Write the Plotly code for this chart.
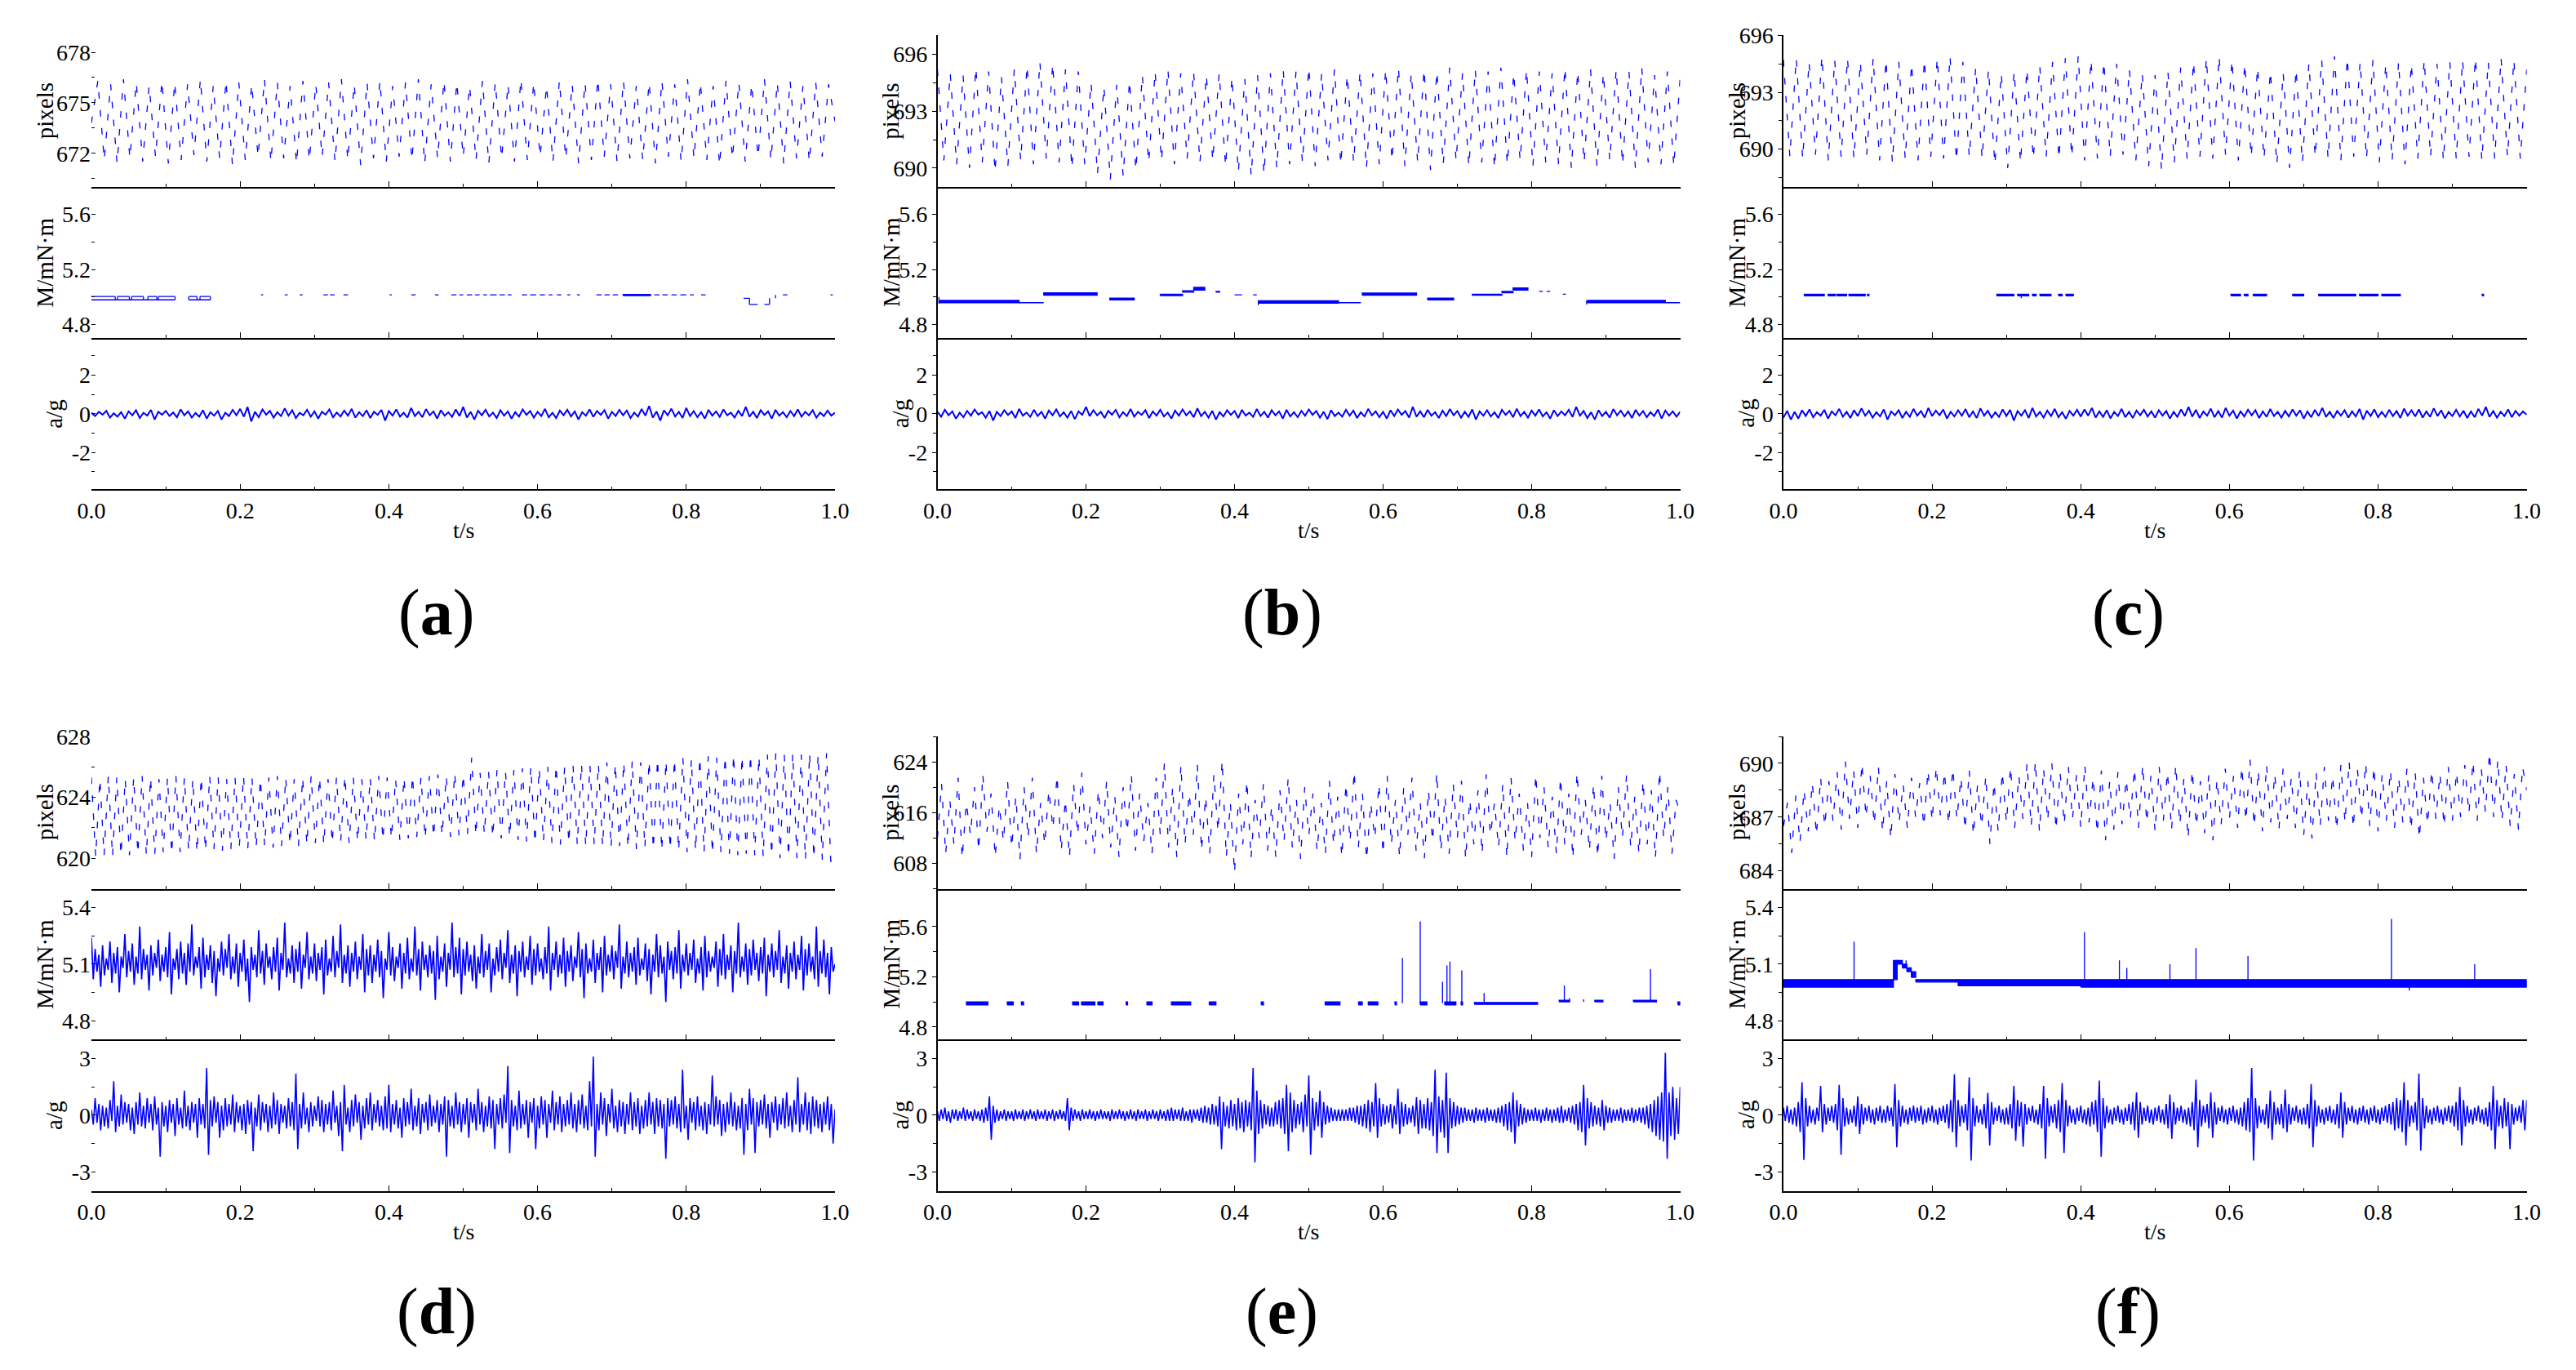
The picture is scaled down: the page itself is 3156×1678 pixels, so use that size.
import numpy as np
import plotly.graph_objects as go

# ------------------------------------------------------------------ data
# pixel traces (alternating crest / trough samples, evenly spread over 0..1 s)
pix_a = [673.8, 676.3, 671.6, 676.1, 671.4, 676.4, 671.7, 676.2, 671.5, 676.0, 671.8, 676.3, 671.4, 676.2, 671.6, 676.1,
         671.9, 676.4, 671.5, 676.0, 671.7, 676.3, 671.3, 676.2, 671.6, 676.1, 671.8, 676.4, 671.5, 676.2, 671.7, 676.0,
         671.4, 676.3, 671.6, 676.1, 671.8, 676.2, 671.5, 676.4, 671.6, 676.1, 671.3, 676.2, 671.7, 676.3, 671.5, 676.0,
         671.8, 676.2, 671.6, 676.4, 671.4, 676.1, 671.7, 676.3, 671.5, 676.2, 671.8, 676.0, 671.6, 676.3, 671.4, 676.2,
         671.7, 676.1, 671.5, 676.4, 671.6, 676.2, 671.8, 676.0, 671.5, 676.3, 671.7, 676.1, 671.4, 676.2, 671.6, 676.4,
         671.8, 676.1, 671.5, 676.3, 671.7, 676.0, 671.6, 676.2, 671.4, 676.3, 671.8, 676.1, 671.5, 676.4, 671.7, 676.2,
         671.6, 676.0, 671.3, 676.3, 671.7, 676.2, 671.5, 676.1, 671.8, 676.4, 671.6, 676.2, 671.4, 676.3, 671.7, 676.0,
         671.5, 676.2, 671.8, 676.1, 673.9]
pix_b = [695.2, 690.4, 695.0, 690.2, 694.9, 690.0, 695.3, 690.3, 695.1, 689.8, 694.8, 690.1, 695.2, 690.4, 695.4, 690.2,
         695.6, 690.5, 695.5, 690.3, 695.2, 690.0, 695.1, 690.2, 694.5, 689.7, 694.3, 689.4, 694.4, 689.6, 694.6, 689.9,
         694.9, 690.3, 695.1, 690.4, 695.2, 690.2, 695.0, 690.5, 695.1, 690.3, 694.9, 690.4, 695.0, 690.1, 694.8, 689.8,
         694.7, 689.6, 694.9, 689.7, 695.0, 690.0, 695.2, 690.2, 695.1, 690.3, 695.3, 690.1, 695.0, 690.4, 695.2, 690.2,
         694.9, 690.3, 695.1, 690.0, 695.0, 690.2, 695.2, 690.4, 695.3, 690.1, 695.0, 690.3, 695.2, 689.9, 695.1, 690.2,
         695.3, 690.4, 695.0, 690.1, 695.2, 690.3, 695.1, 690.0, 695.3, 690.2, 695.0, 690.4, 695.2, 690.1, 695.1, 690.3,
         695.0, 690.2, 695.3, 690.0, 695.1, 690.3, 695.2, 690.1, 695.0, 690.4, 695.2, 690.2, 695.1, 690.0, 695.3, 690.3,
         694.9, 690.2, 695.1, 690.1, 694.8]
pix_c = [694.7, 689.6, 694.8, 689.5, 694.6, 689.7, 694.9, 689.4, 694.7, 689.6, 694.8, 689.5, 694.6, 689.7, 694.8, 689.4,
         694.7, 689.3, 694.6, 689.5, 694.5, 689.4, 694.7, 689.6, 694.8, 689.5, 694.9, 689.4, 694.6, 689.6, 694.3, 689.5,
         694.2, 689.2, 694.0, 689.0, 694.1, 689.3, 694.2, 689.5, 694.4, 689.6, 694.6, 689.5, 694.8, 689.6, 694.9, 689.4,
         694.7, 689.5, 694.6, 689.6, 694.5, 689.7, 694.2, 689.4, 694.0, 689.1, 693.9, 688.9, 694.1, 689.3, 694.3, 689.5,
         694.6, 689.6, 694.8, 689.5, 694.9, 689.7, 694.7, 689.4, 694.5, 689.6, 694.3, 689.5, 694.1, 689.2, 694.0, 689.0,
         694.2, 689.3, 694.5, 689.6, 694.7, 689.5, 694.9, 689.4, 694.8, 689.6, 694.6, 689.5, 694.7, 689.3, 694.5, 689.4,
         694.6, 689.2, 694.5, 689.5, 694.7, 689.6, 694.5, 689.4, 694.6, 689.5, 694.7, 689.6, 694.8, 689.4, 694.6, 689.5,
         694.8, 689.6, 694.7, 689.5, 694.2]
pix_d = [625.3, 620.1, 625.2, 620.2, 625.4, 620.1, 625.3, 620.2, 625.2, 620.2, 625.3, 620.3, 625.4, 620.2, 625.3, 620.3,
         625.2, 620.4, 625.3, 620.3, 625.4, 620.4, 625.3, 620.5, 625.2, 620.4, 625.3, 620.5, 625.4, 620.6, 625.3, 620.5,
         625.2, 620.6, 625.3, 620.7, 625.4, 620.6, 625.3, 620.7, 625.2, 620.8, 625.3, 620.7, 625.4, 620.8, 625.3, 620.9,
         625.2, 620.8, 625.3, 620.9, 625.4, 621.0, 625.3, 620.9, 625.2, 621.0, 625.3, 621.1, 625.4, 621.0, 625.3, 621.1,
         625.2, 621.2, 625.3, 621.1, 625.4, 621.2, 625.3, 621.3, 625.2, 621.2, 625.3, 621.3, 625.4, 621.4, 625.3, 621.3,
         625.4, 621.4, 625.5, 621.5, 625.4, 621.4, 625.6, 621.5, 625.5, 621.6, 626.6, 621.5, 625.6, 621.6, 625.7, 621.4,
         625.8, 621.3, 625.7, 621.4, 625.8, 621.2, 625.9, 621.1, 626.0, 621.0, 625.9, 621.1, 626.0, 621.0, 626.1, 620.9,
         626.0, 621.0, 626.1, 620.9, 626.2, 620.8, 626.1, 620.9, 626.2, 620.8, 626.3, 620.7, 626.2, 620.8, 626.3, 620.7,
         626.4, 620.6, 626.3, 620.7, 626.4, 620.6, 626.5, 620.5, 626.4, 620.6, 626.5, 620.5, 626.6, 620.4, 626.5, 620.5,
         626.6, 620.4, 626.7, 620.3, 626.6, 620.4, 626.7, 620.3, 626.8, 620.2, 626.7, 620.3, 626.8, 620.2, 626.7, 620.1,
         626.8, 620.2, 626.9, 620.0, 626.8, 620.1, 626.9, 620.0, 626.8, 619.9, 626.9, 620.0, 626.8, 619.9, 626.9, 619.8,
         619.9]
pix_e = [612.0, 620.5, 609.5, 618.0, 611.0, 621.5, 608.8, 617.5, 612.5, 620.0, 610.0, 622.0, 613.0, 619.0, 609.0, 617.0,
         611.5, 621.0, 610.5, 618.5, 608.6, 620.0, 612.0, 621.5, 609.5, 617.5, 611.0, 619.5, 613.5, 621.8, 610.0, 618.0,
         609.0, 620.5, 612.5, 622.3, 611.0, 617.0, 609.5, 619.5, 612.0, 621.0, 610.5, 618.5, 609.0, 620.0, 613.0, 622.0,
         610.0, 619.0, 611.5, 617.5, 609.5, 621.5, 612.5, 623.8, 610.5, 620.0, 609.0, 623.5, 611.0, 619.0, 612.5, 623.6,
         610.0, 618.5, 609.5, 622.0, 613.0, 624.2, 609.0, 617.5, 606.5, 619.0, 611.0, 621.0, 608.8, 618.0, 612.0, 620.5,
         610.0, 617.0, 609.0, 619.5, 611.5, 621.5, 610.5, 618.0, 608.7, 620.0, 612.5, 619.0, 610.0, 617.5, 609.5, 621.0,
         611.0, 618.5, 609.0, 620.5, 611.5, 622.5, 610.5, 619.0, 608.6, 617.5, 612.0, 620.5, 609.5, 621.8, 611.0, 618.0,
         609.0, 620.0, 612.5, 621.5, 610.0, 617.5, 608.8, 619.5, 611.5, 622.3, 610.0, 618.5, 609.5, 620.5, 612.0, 621.0,
         608.7, 618.0, 611.0, 619.5, 609.5, 622.0, 612.5, 617.5, 610.5, 620.5, 608.9, 621.5, 611.5, 619.0, 610.0, 617.5,
         609.0, 622.0, 612.0, 620.0, 610.5, 618.5, 609.5, 621.5, 611.0, 619.0, 608.8, 622.3, 612.5, 618.0, 610.0, 620.5,
         609.0, 621.8, 611.5, 617.5, 608.7, 620.0, 612.0, 622.0, 610.5, 618.5, 609.5, 621.0, 611.0, 619.5, 608.8, 622.5,
         612.0, 620.0, 609.5, 618.0, 616.0]
pix_f = [686.5, 687.8, 685.0, 688.2, 685.6, 688.5, 686.2, 688.9, 686.0, 689.2, 686.5, 689.0, 686.8, 689.5, 686.3, 690.1,
         686.9, 689.6, 686.4, 690.0, 687.0, 689.3, 686.6, 689.8, 686.2, 689.0, 685.8, 689.4, 686.7, 688.8, 686.4, 689.2,
         687.0, 688.9, 686.5, 689.6, 686.8, 689.8, 687.1, 689.5, 686.6, 689.7, 686.9, 689.2, 686.3, 689.6, 686.0, 688.8,
         686.5, 689.3, 685.5, 688.9, 686.2, 689.5, 686.7, 689.8, 686.4, 689.3, 686.9, 690.0, 686.5, 690.1, 686.2, 689.7,
         686.8, 690.0, 686.3, 689.5, 686.6, 689.8, 686.9, 689.4, 686.4, 689.9, 686.7, 689.2, 686.1, 689.6, 685.7, 689.0,
         686.3, 689.5, 686.6, 689.1, 686.9, 689.7, 686.4, 689.9, 686.7, 689.3, 686.2, 689.8, 686.8, 689.5, 686.3, 689.9,
         686.6, 689.2, 685.8, 689.6, 686.5, 689.0, 686.1, 689.4, 685.7, 689.1, 686.6, 689.7, 686.9, 689.3, 686.4, 689.8,
         686.8, 690.2, 686.5, 689.6, 686.2, 689.9, 686.7, 689.4, 686.3, 689.7, 686.9, 689.2, 686.4, 689.6, 686.0, 689.0,
         685.8, 689.5, 686.5, 689.8, 686.8, 689.3, 686.3, 689.9, 686.7, 690.1, 686.4, 689.7, 686.9, 690.0, 686.5, 689.8,
         686.2, 689.4, 686.8, 689.6, 686.4, 689.2, 686.7, 689.7, 686.3, 689.5, 685.8, 689.2, 686.6, 689.6, 686.9, 689.4,
         686.5, 689.8, 686.8, 689.5, 687.0, 689.9, 687.2, 690.1, 686.8, 689.7, 687.3, 690.6, 687.0, 690.2, 686.8, 689.9,
         686.5, 689.4, 686.3, 689.8, 688.5]

# acceleration traces (a-c: 201 samples, d-f: 401 samples over 0..1 s)
acc_a = [0.05, -0.12, 0.10, -0.05, 0.15, -0.20, 0.02, -0.15, 0.08, -0.25, 0.12, -0.08, 0.18, -0.22, 0.05, -0.10, 0.20, -0.30, 0.10, -0.05,
         0.15, -0.12, 0.06, -0.18, 0.22, -0.08, 0.12, -0.20, 0.04, -0.15, 0.18, -0.25, 0.08, -0.10, 0.14, -0.30, 0.05, -0.12, 0.20, -0.08,
         0.25, -0.15, 0.35, -0.40, 0.10, -0.18, 0.22, -0.05, 0.15, -0.20, 0.08, -0.12, 0.28, -0.10, 0.18, -0.22, 0.05, -0.08, 0.20, -0.15,
         0.12, -0.25, 0.10, -0.05, 0.22, -0.18, 0.06, -0.14, 0.16, -0.10, 0.25, -0.20, 0.08, -0.12, 0.18, -0.22, 0.10, -0.06, 0.20, -0.35,
         0.14, -0.10, 0.22, -0.15, 0.05, -0.20, 0.30, -0.12, 0.10, -0.18, 0.24, -0.08, 0.12, -0.25, 0.18, -0.10, 0.08, -0.16, 0.22, -0.12,
         0.35, -0.20, 0.10, -0.30, 0.15, -0.08, 0.20, -0.14, 0.06, -0.22, 0.18, -0.10, 0.12, -0.25, 0.08, -0.15, 0.22, -0.06, 0.14, -0.20,
         0.10, -0.12, 0.25, -0.18, 0.05, -0.22, 0.16, -0.08, 0.20, -0.14, 0.12, -0.30, 0.08, -0.10, 0.22, -0.16, 0.14, -0.06, 0.18, -0.25,
         0.10, -0.12, 0.20, -0.08, 0.16, -0.22, 0.06, -0.15, 0.24, -0.10, 0.40, -0.20, 0.12, -0.35, 0.18, -0.08, 0.26, -0.14, 0.10, -0.22,
         0.30, -0.12, 0.14, -0.18, 0.08, -0.25, 0.20, -0.10, 0.12, -0.16, 0.22, -0.08, 0.06, -0.20, 0.15, -0.12, 0.35, -0.15, 0.10, -0.22,
         0.18, -0.06, 0.12, -0.25, 0.20, -0.10, 0.08, -0.18, 0.14, -0.12, 0.22, -0.15, 0.10, -0.08, 0.18, -0.20, 0.06, -0.12, 0.16, -0.10,
         0.05]
acc_b = [0.10, -0.15, 0.20, -0.08, 0.12, -0.25, 0.05, -0.18, 0.15, -0.10, 0.22, -0.05, 0.08, -0.20, 0.14, -0.35, 0.10, -0.12, 0.18, -0.06,
         0.12, -0.22, 0.25, -0.10, 0.06, -0.16, 0.20, -0.12, 0.10, -0.25, 0.16, -0.08, 0.22, -0.14, 0.08, -0.20, 0.14, -0.28, 0.12, -0.06,
         0.35, -0.12, 0.18, -0.08, 0.10, -0.22, 0.15, -0.05, 0.20, -0.18, 0.08, -0.12, 0.24, -0.15, 0.10, -0.06, 0.18, -0.22, 0.12, -0.10,
         0.20, -0.14, 0.06, -0.25, 0.16, -0.10, 0.22, -0.08, 0.12, -0.18, 0.28, -0.12, 0.10, -0.20, 0.15, -0.30, 0.08, -0.14, 0.18, -0.06,
         0.14, -0.22, 0.20, -0.10, 0.06, -0.16, 0.24, -0.12, 0.10, -0.20, 0.18, -0.08, 0.12, -0.25, 0.20, -0.14, 0.08, -0.18, 0.15, -0.10,
         0.22, -0.06, 0.14, -0.20, 0.10, -0.28, 0.18, -0.12, 0.06, -0.15, 0.20, -0.10, 0.16, -0.22, 0.08, -0.14, 0.25, -0.08, 0.12, -0.18,
         0.10, -0.25, 0.18, -0.12, 0.22, -0.06, 0.14, -0.20, 0.35, -0.15, 0.12, -0.18, 0.20, -0.10, 0.08, -0.22, 0.16, -0.12, 0.24, -0.08,
         0.14, -0.20, 0.10, -0.16, 0.22, -0.30, 0.12, -0.10, 0.18, -0.14, 0.08, -0.22, 0.20, -0.06, 0.15, -0.18, 0.26, -0.12, 0.10, -0.20,
         0.16, -0.10, 0.22, -0.14, 0.08, -0.25, 0.18, -0.12, 0.12, -0.08, 0.20, -0.16, 0.35, -0.10, 0.14, -0.22, 0.08, -0.30, 0.18, -0.12,
         0.10, -0.20, 0.24, -0.08, 0.16, -0.14, 0.12, -0.22, 0.20, -0.10, 0.14, -0.18, 0.08, -0.12, 0.22, -0.25, 0.16, -0.10, 0.12, -0.15,
         0.10]
acc_c = [-0.20, 0.15, -0.30, 0.10, -0.25, 0.18, -0.12, 0.22, -0.18, 0.08, -0.10, 0.20, -0.25, 0.12, -0.08, 0.25, -0.15, 0.10, -0.22, 0.18,
         -0.12, 0.28, -0.10, 0.15, -0.20, 0.08, -0.14, 0.22, -0.30, 0.12, -0.08, 0.18, -0.22, 0.10, -0.16, 0.25, -0.10, 0.14, -0.20, 0.30,
         -0.12, 0.16, -0.08, 0.22, -0.25, 0.10, -0.14, 0.18, -0.10, 0.24, -0.18, 0.12, -0.22, 0.28, -0.10, 0.15, -0.20, 0.08, -0.16, 0.22,
         -0.12, 0.20, -0.35, 0.14, -0.10, 0.18, -0.22, 0.30, -0.14, 0.10, -0.20, 0.16, -0.12, 0.25, -0.18, 0.08, -0.26, 0.14, -0.10, 0.20,
         -0.15, 0.22, -0.10, 0.30, -0.20, 0.12, -0.16, 0.18, -0.24, 0.10, -0.12, 0.25, -0.18, 0.10, -0.22, 0.16, -0.08, 0.20, -0.14, 0.12,
         -0.20, 0.18, -0.10, 0.14, -0.25, 0.10, -0.16, 0.22, -0.12, 0.35, -0.15, 0.20, -0.22, 0.12, -0.10, 0.26, -0.18, 0.14, -0.20, 0.30,
         -0.10, 0.16, -0.24, 0.12, -0.14, 0.20, -0.08, 0.18, -0.22, 0.12, -0.16, 0.24, -0.12, 0.10, -0.20, 0.15, -0.14, 0.22, -0.10, 0.18,
         -0.25, 0.12, -0.18, 0.20, -0.12, 0.30, -0.16, 0.10, -0.22, 0.14, -0.10, 0.18, -0.20, 0.12, -0.14, 0.25, -0.30, 0.16, -0.12, 0.22,
         -0.18, 0.10, -0.16, 0.20, -0.12, 0.14, -0.22, 0.26, -0.10, 0.18, -0.14, 0.22, -0.20, 0.12, -0.16, 0.28, -0.12, 0.18, -0.24, 0.10,
         -0.12, 0.20, -0.14, 0.16, -0.22, 0.12, -0.18, 0.25, -0.10, 0.35, -0.16, 0.14, -0.20, 0.10, -0.12, 0.22, -0.18, 0.15, -0.10, 0.12,
         -0.05]
acc_d = [0.3, -0.5, 0.9, -0.4, 0.6, -0.8, 0.5, -0.6, 0.4, -0.7, 0.8, -0.3, 1.8, -0.9, 0.5, -0.6, 1.1, -0.5, 0.7, -0.4,
         0.6, -0.8, 0.4, -1.0, 0.7, -0.5, 1.2, -0.6, 0.5, -0.7, 0.9, -0.4, 0.6, -0.8, 1.0, -0.5, 0.4, -2.2, 0.7, -0.6,
         0.5, -0.9, 0.8, -0.4, 0.6, -1.1, 0.9, -0.5, 0.4, -0.7, 1.3, -0.6, 0.5, -0.8, 0.7, -0.4, 0.6, -1.2, 0.9, -0.5,
         0.6, -0.7, 2.5, -2.1, 0.8, -0.6, 1.0, -0.4, 0.7, -1.2, 0.5, -0.8, 0.9, -0.6, 0.6, -0.5, 1.1, -0.9, 0.7, -0.4,
         0.5, -0.8, 0.6, -1.0, 0.8, -0.5, 0.7, -1.9, 0.4, -0.6, 1.1, -0.8, 0.7, -0.4, 0.6, -0.9, 0.5, -0.7, 1.2, -0.5,
         0.8, -1.0, 0.6, -0.4, 0.5, -0.7, 0.9, -0.6, 0.7, -0.8, 2.2, -1.8, 0.6, -0.7, 1.2, -0.5, 0.4, -0.9, 0.7, -0.6,
         0.5, -0.3, 1.0, -0.6, 0.8, -0.9, 0.6, -0.5, 0.7, -0.8, 1.3, -0.4, 0.5, -1.1, 0.7, -1.9, 1.6, -0.5, 0.4, -0.9,
         0.8, -0.6, 1.1, -0.4, 0.7, -1.3, 0.5, -0.7, 0.9, -0.5, 1.2, -0.8, 0.6, -0.4, 0.8, -0.6, 0.5, -0.8, 1.0, -0.7,
         1.6, -0.9, 0.6, -0.5, 0.8, -0.7, 0.4, -1.2, 0.9, -0.6, 0.7, -0.5, 1.4, -0.8, 0.5, -0.6, 0.9, -1.0, 0.6, -0.4,
         0.7, -0.8, 1.1, -0.6, 0.5, -0.4, 0.8, -0.9, 0.6, -0.5, 1.0, -2.2, 0.8, -0.6, 0.5, -0.7, 1.2, -0.5, 0.7, -0.9,
         0.6, -0.5, 0.9, -1.2, 0.7, -0.4, 0.6, -0.8, 1.4, -0.5, 0.7, -0.9, 0.5, -0.6, 1.0, -0.7, 0.8, -1.8, 0.6, -0.5,
         0.9, -0.7, 1.1, -0.4, 2.6, -2.0, 0.8, -0.6, 0.5, -0.8, 1.3, -0.7, 0.6, -0.5, 0.8, -1.2, 0.7, -0.4, 0.9, -1.8,
         0.5, -0.7, 1.0, -0.5, 0.8, -1.2, 0.6, -0.4, 1.3, -0.8, 0.7, -0.5, 1.0, -0.9, 0.6, -0.6, 0.8, -0.5, 1.2, -0.7,
         0.6, -0.9, 0.8, -0.5, 1.1, -0.7, 0.5, -0.8, 1.8, -0.6, 3.1, -2.2, 0.6, -0.8, 1.2, -0.5, 0.9, -1.1, 0.6, -0.4,
         1.4, -0.7, 0.5, -0.9, 0.8, -0.6, 0.7, -1.0, 0.6, -0.5, 1.2, -0.8, 0.7, -0.6, 0.9, -1.0, 0.5, -0.7, 0.8, -0.6,
         1.2, -0.5, 0.7, -1.0, 0.9, -0.6, 0.8, -0.7, 0.6, -2.3, 0.9, -0.6, 0.8, -0.5, 1.0, -0.7, 0.6, -0.9, 2.4, -0.7,
         0.5, -1.3, 0.9, -0.4, 0.7, -0.8, 1.0, -0.6, 0.5, -0.8, 0.7, -1.0, 0.6, -0.5, 2.1, -0.6, 1.0, -0.5, 0.8, -1.1,
         0.6, -0.9, 0.7, -0.5, 1.2, -0.6, 0.7, -0.8, 0.5, -0.7, 0.9, -2.1, 0.6, -0.8, 1.4, -0.5, 0.9, -2.0, 0.7, -0.6,
         0.8, -0.5, 1.1, -0.7, 0.6, -1.2, 0.7, -0.4, 1.0, -0.8, 0.6, -0.5, 0.9, -0.7, 1.2, -0.6, 0.5, -0.9, 0.8, -0.5,
         2.0, -0.9, 0.6, -0.5, 1.2, -0.8, 0.7, -1.0, 1.0, -0.6, 0.8, -0.7, 0.6, -0.9, 0.7, -0.5, 1.0, -0.8, 0.6, -1.5,
         0.3]
acc_e = [0.2, -0.3, 0.3, -0.2, 0.4, -0.3, 0.2, -0.4, 0.3, -0.2, 0.3, -0.3, 0.2, -0.2, 0.4, -0.3, 0.3, -0.2, 0.2, -0.3,
         0.3, -0.2, 0.2, -0.3, 0.3, -0.4, 0.4, -0.3, 1.0, -1.3, 0.5, -0.4, 0.3, -0.3, 0.2, -0.2, 0.3, -0.3, 0.2, -0.2,
         0.2, -0.3, 0.3, -0.2, 0.2, -0.2, 0.3, -0.3, 0.2, -0.2, 0.3, -0.2, 0.2, -0.3, 0.3, -0.2, 0.2, -0.2, 0.3, -0.3,
         0.2, -0.2, 0.3, -0.3, 0.2, -0.2, 0.3, -0.2, 0.2, -0.3, 0.9, -0.8, 0.4, -0.3, 0.3, -0.2, 0.2, -0.3, 0.3, -0.2,
         0.2, -0.2, 0.3, -0.2, 0.2, -0.3, 0.2, -0.2, 0.3, -0.2, 0.2, -0.2, 0.2, -0.3, 0.3, -0.2, 0.2, -0.2, 0.3, -0.2,
         0.2, -0.3, 0.2, -0.2, 0.3, -0.2, 0.2, -0.3, 0.3, -0.2, 0.2, -0.2, 0.3, -0.3, 0.2, -0.2, 0.3, -0.2, 0.2, -0.3,
         0.3, -0.2, 0.2, -0.3, 0.3, -0.3, 0.4, -0.3, 0.3, -0.2, 0.3, -0.3, 0.4, -0.3, 0.2, -0.3, 0.3, -0.4, 0.3, -0.2,
         0.3, -0.3, 0.4, -0.4, 0.5, -0.4, 0.4, -0.5, 0.6, -0.5, 0.5, -0.6, 1.0, -1.8, 0.7, -0.6, 0.5, -0.7, 0.8, -0.6,
         0.6, -0.8, 0.9, -0.7, 0.7, -0.9, 0.8, -0.6, 0.7, -0.8, 2.5, -2.5, 1.3, -1.0, 0.8, -0.7, 0.6, -0.5, 0.5, -0.6,
         0.4, -0.6, 0.7, -0.5, 0.8, -0.7, 0.9, -1.0, 1.6, -1.9, 1.2, -0.9, 0.8, -0.7, 0.6, -0.5, 0.7, -0.9, 1.1, -0.6,
         2.1, -2.1, 0.9, -0.8, 0.7, -0.6, 1.3, -1.2, 0.7, -0.5, 0.5, -0.4, 0.4, -0.3, 0.3, -0.3, 0.3, -0.3, 0.3, -0.3,
         0.3, -0.3, 0.4, -0.3, 0.4, -0.4, 0.5, -0.5, 0.5, -0.6, 0.6, -0.7, 0.8, -0.9, 0.7, -0.6, 1.7, -1.2, 0.9, -0.6,
         0.6, -0.5, 0.5, -0.4, 0.6, -0.7, 0.5, -0.5, 1.4, -1.0, 0.7, -0.6, 0.6, -0.5, 0.4, -0.4, 0.5, -0.6, 0.95, -1.0,
         0.8, -0.7, 0.6, -0.7, 0.9, -0.8, 0.7, -1.1, 2.4, -2.0, 1.0, -0.9, 0.8, -1.2, 2.25, -2.0, 0.9, -0.7, 0.7, -0.6,
         0.5, -0.5, 0.4, -0.4, 0.4, -0.3, 0.3, -0.3, 0.3, -0.4, 0.4, -0.3, 0.3, -0.3, 0.3, -0.4, 0.4, -0.3, 0.3, -0.3,
         0.3, -0.4, 0.4, -0.4, 0.5, -0.6, 0.6, -0.8, 0.7, -0.9, 1.2, -1.5, 0.8, -0.6, 0.6, -0.5, 0.4, -0.4, 0.3, -0.3,
         0.3, -0.3, 0.4, -0.3, 0.3, -0.4, 0.3, -0.3, 0.4, -0.3, 0.3, -0.4, 0.3, -0.3, 0.4, -0.4, 0.5, -0.4, 0.3, -0.3,
         0.4, -0.4, 0.5, -0.5, 0.6, -0.8, 0.7, -0.9, 1.6, -1.6, 0.9, -0.7, 0.7, -0.6, 0.5, -0.5, 0.4, -0.6, 0.8, -0.8,
         0.5, -0.4, 0.4, -0.4, 0.3, -0.3, 0.3, -0.3, 0.4, -0.4, 0.3, -0.3, 0.3, -0.3, 0.4, -0.4, 0.3, -0.3, 0.4, -0.4,
         0.4, -0.5, 0.5, -0.7, 0.6, -0.9, 0.8, -1.1, 1.0, -1.3, 1.2, -1.4, 3.3, -2.3, 1.2, -1.1, 1.5, -1.3, 0.9, -1.0,
         1.5]
acc_f = [0.4, -0.3, 0.5, -0.4, 0.3, -0.5, 0.4, -0.6, 0.7, -0.9, 1.74, -2.37, 0.9, -0.6, 0.5, -0.4, 0.3, -0.5, 0.4, -0.3,
         1.55, -0.9, 0.6, -0.5, 0.4, -0.3, 0.5, -0.4, 0.6, -0.8, 1.6, -2.1, 0.9, -0.6, 0.4, -0.5, 0.3, -0.4, 0.5, -0.6,
         1.0, -1.0, 0.6, -0.5, 0.4, -0.3, 0.5, -0.4, 0.3, -0.5, 0.4, -0.3, 0.5, -0.4, 0.3, -0.4, 0.5, -0.3, 0.4, -0.6,
         1.65, -1.7, 0.8, -0.6, 0.5, -0.4, 0.3, -0.5, 0.4, -0.3, 0.5, -0.4, 0.4, -0.3, 0.5, -0.5, 0.3, -0.4, 0.4, -0.3,
         0.5, -0.4, 0.3, -0.5, 0.4, -0.3, 0.5, -0.4, 0.6, -0.7, 0.8, -0.9, 2.17, -1.7, 0.8, -0.6, 0.5, -0.4, 0.6, -0.8,
         2.0, -2.4, 0.9, -0.6, 0.5, -0.4, 0.3, -0.5, 0.6, -0.7, 1.18, -1.6, 0.7, -0.5, 0.4, -0.3, 0.5, -0.4, 0.3, -0.5,
         0.4, -0.5, 0.6, -0.7, 1.55, -1.35, 0.8, -0.6, 0.7, -1.67, 0.6, -0.5, 0.4, -0.3, 0.5, -0.4, 0.3, -0.5, 0.6, -0.7,
         1.55, -2.3, 0.9, -0.6, 0.5, -0.4, 0.6, -0.7, 0.8, -0.9, 1.7, -2.0, 0.8, -0.6, 0.5, -0.4, 0.3, -0.5, 0.4, -0.3,
         0.5, -0.4, 0.3, -0.5, 0.4, -0.6, 0.7, -0.5, 0.8, -0.9, 1.83, -2.2, 0.9, -0.7, 0.5, -0.4, 0.3, -0.5, 0.4, -0.3,
         0.5, -0.4, 0.3, -0.5, 0.4, -0.3, 0.6, -0.5, 0.7, -0.8, 1.2, -1.2, 0.7, -0.5, 0.4, -0.3, 0.5, -0.4, 0.3, -0.5,
         0.4, -0.3, 0.5, -0.4, 0.3, -0.5, 0.6, -0.7, 1.1, -1.25, 0.7, -0.5, 0.4, -0.3, 0.5, -0.4, 0.3, -0.5, 0.4, -0.6,
         0.7, -0.8, 1.87, -1.7, 0.8, -0.6, 0.5, -0.4, 0.6, -0.7, 1.2, -1.2, 0.7, -0.5, 0.4, -0.3, 0.5, -0.4, 0.3, -0.5,
         0.4, -0.3, 0.5, -0.4, 0.3, -0.5, 0.4, -0.6, 0.7, -0.8, 0.9, -0.9, 2.5, -2.4, 0.9, -0.7, 0.5, -0.4, 0.3, -0.5,
         0.6, -0.7, 1.3, -1.3, 0.7, -0.5, 0.4, -0.5, 0.6, -0.7, 1.36, -0.9, 0.6, -0.5, 0.4, -0.3, 0.5, -0.4, 0.3, -0.5,
         0.4, -0.5, 0.6, -0.7, 1.65, -1.7, 0.8, -0.6, 0.5, -0.4, 0.3, -0.5, 0.4, -0.3, 0.5, -0.4, 0.3, -0.5, 0.6, -0.7,
         1.2, -1.2, 0.7, -0.5, 0.4, -0.3, 0.5, -0.4, 0.3, -0.5, 0.4, -0.3, 0.5, -0.4, 0.3, -0.5, 0.4, -0.3, 0.5, -0.4,
         0.3, -0.5, 0.4, -0.3, 0.5, -0.4, 0.6, -0.5, 0.7, -0.8, 0.9, -0.7, 0.8, -0.9, 1.74, -1.6, 0.8, -0.6, 0.5, -0.4,
         0.7, -0.8, 2.2, -1.87, 0.9, -0.7, 0.5, -0.4, 0.3, -0.5, 0.4, -0.3, 0.5, -0.4, 0.3, -0.5, 0.4, -0.3, 0.5, -0.4,
         0.5, -0.6, 0.7, -0.8, 1.5, -1.6, 0.8, -0.6, 0.5, -0.4, 0.3, -0.5, 0.4, -0.3, 0.5, -0.4, 0.3, -0.5, 0.4, -0.6,
         0.7, -0.8, 1.55, -1.8, 0.8, -0.6, 0.5, -0.7, 0.9, -0.6, 0.7, -1.8, 0.6, -0.5, 0.4, -0.3, 0.5, -0.4, 0.8, -0.8,
         0.8]

# torque: dense trace of panel (d) (401 samples)
m_d = [5.24, 5.02, 5.18, 5.06, 5.15, 4.98, 5.20, 5.04, 5.13, 5.07, 5.22, 5.00, 5.16, 5.05, 5.19, 4.95, 5.14, 5.08, 5.26, 5.03,
       5.17, 5.06, 5.21, 4.99, 5.14, 5.05, 5.30, 5.02, 5.18, 5.07, 5.15, 4.96, 5.20, 5.04, 5.16, 5.08, 5.23, 5.01, 5.15, 5.06,
       5.19, 5.03, 5.27, 4.94, 5.13, 5.07, 5.18, 5.02, 5.22, 5.05, 5.16, 4.99, 5.21, 5.06, 5.31, 5.04, 5.14, 5.08, 5.19, 4.97,
       5.24, 5.03, 5.15, 5.07, 5.20, 5.00, 5.17, 4.93, 5.13, 5.06, 5.22, 5.04, 5.18, 5.08, 5.26, 5.02, 5.14, 5.05, 5.21, 4.98,
       5.16, 5.06, 5.23, 5.01, 5.13, 4.90, 5.19, 5.07, 5.15, 5.03, 5.28, 5.05, 5.17, 4.99, 5.21, 5.08, 5.14, 5.02, 5.19, 5.06,
       5.24, 4.96, 5.16, 5.07, 5.32, 5.03, 5.13, 5.05, 5.20, 5.00, 5.18, 5.06, 5.22, 4.97, 5.15, 5.08, 5.27, 5.02, 5.14, 5.05,
       5.21, 5.01, 5.16, 5.07, 5.19, 4.94, 5.23, 5.04, 5.13, 5.06, 5.25, 5.03, 5.17, 5.08, 5.31, 5.00, 5.15, 5.05, 5.20, 4.98,
       5.16, 5.06, 5.22, 5.02, 5.14, 5.07, 5.26, 4.95, 5.18, 5.04, 5.20, 5.00, 5.15, 5.06, 5.23, 5.03, 5.17, 4.92, 5.13, 5.07,
       5.27, 5.04, 5.19, 5.01, 5.14, 5.08, 5.21, 4.97, 5.16, 5.05, 5.24, 5.02, 5.13, 5.06, 5.30, 5.04, 5.18, 4.96, 5.22, 5.07,
       5.15, 5.03, 5.20, 5.05, 5.17, 4.91, 5.25, 5.02, 5.14, 5.06, 5.21, 4.98, 5.16, 5.07, 5.32, 5.03, 5.19, 5.05, 5.24, 4.94,
       5.18, 5.04, 5.22, 5.06, 5.15, 5.01, 5.20, 4.97, 5.14, 5.05, 5.26, 5.03, 5.17, 5.07, 5.21, 4.95, 5.13, 5.04, 5.19, 5.06,
       5.23, 5.02, 5.16, 5.08, 5.28, 5.00, 5.15, 5.05, 5.20, 4.93, 5.17, 5.06, 5.22, 5.03, 5.14, 5.07, 5.25, 4.99, 5.18, 5.04,
       5.21, 5.06, 5.13, 5.02, 5.19, 5.05, 5.30, 4.96, 5.16, 5.07, 5.22, 5.03, 5.15, 5.05, 5.24, 4.98, 5.17, 5.06, 5.20, 5.01,
       5.14, 5.08, 5.27, 5.03, 5.18, 4.92, 5.21, 5.05, 5.13, 5.06, 5.23, 5.00, 5.16, 5.07, 5.19, 4.95, 5.25, 5.04, 5.15, 5.06,
       5.20, 5.02, 5.17, 5.08, 5.31, 4.97, 5.14, 5.05, 5.22, 5.03, 5.16, 5.06, 5.19, 4.99, 5.24, 5.04, 5.13, 5.07, 5.21, 5.01,
       5.18, 4.94, 5.15, 5.06, 5.26, 5.03, 5.20, 5.05, 5.14, 4.90, 5.22, 5.07, 5.17, 5.02, 5.19, 5.05, 5.28, 4.97, 5.15, 5.06,
       5.21, 5.04, 5.16, 5.07, 5.23, 5.00, 5.13, 5.05, 5.19, 4.96, 5.25, 5.03, 5.17, 5.06, 5.14, 5.08, 5.22, 4.98, 5.18, 5.04,
       5.26, 5.02, 5.15, 5.07, 5.20, 4.95, 5.17, 5.05, 5.32, 5.03, 5.14, 5.06, 5.21, 4.99, 5.18, 5.04, 5.23, 5.07, 5.16, 5.01,
       5.19, 5.05, 5.24, 4.93, 5.15, 5.06, 5.21, 5.03, 5.17, 5.07, 5.28, 5.00, 5.14, 5.05, 5.20, 4.97, 5.16, 5.06, 5.22, 5.02,
       5.15, 5.07, 5.25, 4.96, 5.18, 5.04, 5.21, 5.06, 5.14, 5.02, 5.30, 4.98, 5.17, 5.05, 5.23, 5.03, 5.16, 4.94, 5.19, 5.06,
       5.10]

# torque: held levels (t_start, t_end, low, high) and single spikes (t, low, high)
m_seg_a = [(0.0, 0.1125, 4.979, 4.979), (0.131, 0.160, 4.979, 4.979),
           (0.0, 0.032, 5.003, 5.003), (0.035, 0.051, 5.003, 5.003), (0.054, 0.070, 5.003, 5.003),
           (0.076, 0.088, 5.003, 5.003), (0.090, 0.1125, 5.003, 5.003), (0.131, 0.142, 5.003, 5.003),
           (0.146, 0.160, 5.003, 5.003),
           (0.228, 0.231, 5.015, 5.015), (0.260, 0.264, 5.015, 5.015), (0.280, 0.284, 5.015, 5.015),
           (0.312, 0.318, 5.015, 5.015), (0.321, 0.327, 5.015, 5.015), (0.339, 0.345, 5.015, 5.015),
           (0.401, 0.404, 5.015, 5.015), (0.430, 0.436, 5.015, 5.015), (0.462, 0.467, 5.015, 5.015),
           (0.484, 0.491, 5.015, 5.015), (0.495, 0.500, 5.015, 5.015), (0.505, 0.512, 5.015, 5.015),
           (0.516, 0.522, 5.015, 5.015), (0.527, 0.532, 5.015, 5.015), (0.536, 0.545, 5.015, 5.015),
           (0.549, 0.556, 5.015, 5.015), (0.560, 0.565, 5.015, 5.015), (0.579, 0.586, 5.015, 5.015),
           (0.590, 0.598, 5.015, 5.015), (0.603, 0.610, 5.015, 5.015), (0.615, 0.620, 5.015, 5.015),
           (0.626, 0.632, 5.015, 5.015), (0.640, 0.644, 5.015, 5.015), (0.653, 0.657, 5.015, 5.015),
           (0.679, 0.686, 5.015, 5.015), (0.690, 0.697, 5.015, 5.015), (0.701, 0.708, 5.015, 5.015),
           (0.715, 0.752, 5.010, 5.018), (0.757, 0.764, 5.015, 5.015), (0.768, 0.775, 5.015, 5.015),
           (0.780, 0.787, 5.015, 5.015), (0.792, 0.800, 5.015, 5.015), (0.805, 0.810, 5.015, 5.015),
           (0.820, 0.826, 5.015, 5.015), (0.877, 0.885, 4.990, 4.990), (0.885, 0.896, 4.945, 4.945),
           (0.905, 0.912, 4.945, 4.945), (0.930, 0.936, 5.015, 5.015), (0.994, 0.997, 5.015, 5.015)]
m_spk_a = [(0.032, 4.979, 5.003), (0.035, 4.979, 5.003), (0.051, 4.979, 5.003), (0.054, 4.979, 5.003),
           (0.070, 4.979, 5.003), (0.076, 4.979, 5.003), (0.088, 4.979, 5.003), (0.090, 4.979, 5.003),
           (0.1125, 4.979, 5.003), (0.131, 4.979, 5.003), (0.142, 4.979, 5.003), (0.146, 4.979, 5.003),
           (0.160, 4.979, 5.003), (0.885, 4.945, 4.990), (0.912, 4.945, 4.990), (0.920, 4.990, 5.015)]
m_seg_b = [(0.003, 0.110, 4.958, 4.975), (0.110, 0.143, 4.958, 4.958), (0.143, 0.215, 5.012, 5.030),
           (0.232, 0.265, 4.978, 4.992), (0.300, 0.330, 5.010, 5.020), (0.330, 0.345, 5.035, 5.045),
           (0.345, 0.360, 5.050, 5.070), (0.375, 0.380, 5.035, 5.040), (0.400, 0.410, 5.015, 5.015),
           (0.425, 0.430, 5.015, 5.015), (0.432, 0.540, 4.955, 4.972), (0.540, 0.570, 4.958, 4.958),
           (0.572, 0.645, 5.012, 5.028), (0.660, 0.695, 4.978, 4.992), (0.720, 0.760, 5.012, 5.020),
           (0.760, 0.775, 5.030, 5.040), (0.775, 0.795, 5.050, 5.065), (0.810, 0.815, 5.040, 5.040),
           (0.820, 0.825, 5.040, 5.040), (0.842, 0.846, 5.020, 5.020), (0.875, 0.980, 4.958, 4.975),
           (0.980, 1.000, 4.958, 4.958)]
m_spk_b = [(0.002, 4.950, 5.000), (0.432, 4.940, 4.970), (0.874, 4.945, 4.975), (0.355, 5.050, 5.075),
           (0.790, 5.050, 5.070)]
m_seg_c = [(0.028, 0.055, 5.008, 5.020), (0.060, 0.070, 5.008, 5.020), (0.072, 0.085, 5.008, 5.020),
           (0.088, 0.110, 5.008, 5.020), (0.113, 0.115, 5.008, 5.020), (0.287, 0.310, 5.008, 5.020),
           (0.315, 0.330, 5.008, 5.020), (0.335, 0.340, 5.008, 5.020), (0.345, 0.360, 5.008, 5.020),
           (0.370, 0.375, 5.008, 5.020), (0.380, 0.390, 5.008, 5.020), (0.602, 0.615, 5.008, 5.020),
           (0.620, 0.625, 5.008, 5.020), (0.632, 0.650, 5.008, 5.020), (0.685, 0.700, 5.008, 5.020),
           (0.720, 0.770, 5.008, 5.020), (0.775, 0.800, 5.008, 5.020), (0.805, 0.830, 5.008, 5.020),
           (0.940, 0.942, 5.008, 5.020)]
m_spk_c = [(0.320, 4.990, 5.015)]
m_seg_e = [(0.039, 0.068, 4.975, 5.000), (0.094, 0.102, 4.975, 5.000), (0.113, 0.116, 4.975, 5.000),
           (0.182, 0.190, 4.975, 5.000), (0.194, 0.212, 4.975, 5.000), (0.216, 0.223, 4.975, 5.000),
           (0.254, 0.256, 4.975, 5.000), (0.282, 0.289, 4.975, 5.000), (0.315, 0.341, 4.975, 5.000),
           (0.366, 0.375, 4.975, 5.000), (0.436, 0.439, 4.975, 5.000), (0.522, 0.542, 4.975, 5.000),
           (0.567, 0.572, 4.975, 5.000), (0.580, 0.593, 4.975, 5.000), (0.616, 0.618, 4.975, 5.000),
           (0.650, 0.659, 4.975, 5.000), (0.683, 0.698, 4.975, 5.000), (0.705, 0.707, 4.975, 5.000),
           (0.723, 0.808, 4.980, 4.995), (0.837, 0.851, 5.000, 5.012), (0.885, 0.896, 5.000, 5.012),
           (0.937, 0.968, 5.000, 5.012), (0.997, 1.000, 4.975, 5.000)]
m_spk_e = [(0.626, 4.990, 5.350), (0.650, 4.990, 5.640), (0.680, 4.990, 5.160), (0.686, 4.990, 5.290),
           (0.690, 4.990, 5.320), (0.706, 4.990, 5.250), (0.736, 4.990, 5.070), (0.844, 5.000, 5.130),
           (0.851, 5.000, 5.030), (0.870, 5.000, 5.020), (0.960, 5.000, 5.260)]
m_seg_f = [(0.000, 0.148, 4.978, 5.018), (0.148, 0.153, 5.018, 5.120), (0.153, 0.160, 5.100, 5.120),
           (0.160, 0.166, 5.080, 5.100), (0.166, 0.172, 5.060, 5.080), (0.172, 0.178, 5.030, 5.060),
           (0.178, 0.235, 5.005, 5.018), (0.235, 0.300, 4.985, 5.018), (0.300, 0.400, 4.985, 5.018),
           (0.400, 1.000, 4.978, 5.018)]
m_spk_f = [(0.095, 5.000, 5.220), (0.405, 5.000, 5.270), (0.452, 5.000, 5.120), (0.462, 5.000, 5.080),
           (0.520, 5.000, 5.100), (0.555, 5.000, 5.185), (0.625, 5.000, 5.143), (0.818, 5.000, 5.340),
           (0.930, 5.000, 5.100), (0.165, 5.080, 5.120), (0.842, 4.960, 4.990)]

# axes
panel_names = ['a', 'b', 'c', 'd', 'e', 'f']
pix_ranges = [[670, 679], [689, 697], [688, 696], [618, 628], [604, 628], [683, 691.5]]
pix_ticks = [[672, 675, 678], [690, 693, 696], [690, 693, 696], [620, 624, 628], [608, 616, 624], [684, 687, 690]]
pix_minor = [[670.5, 673.5, 676.5], [691.5, 694.5], [688.5, 691.5, 694.5], [618, 622, 626], [604, 612, 620, 628], [685.5, 688.5, 691.5]]
m_ranges = [[4.7, 5.8], [4.7, 5.8], [4.7, 5.8], [4.7, 5.5], [4.7, 5.9], [4.7, 5.5]]
m_ticks = [[4.8, 5.2, 5.6], [4.8, 5.2, 5.6], [4.8, 5.2, 5.6], [4.8, 5.1, 5.4], [4.8, 5.2, 5.6], [4.8, 5.1, 5.4]]
m_minor = [[5.0, 5.4], [5.0, 5.4], [5.0, 5.4], [4.95, 5.25], [5.0, 5.4], [4.95, 5.25]]
a_ranges = [[-3.9, 3.9], [-3.9, 3.9], [-3.9, 3.9], [-4, 4], [-4, 4], [-4, 4]]
a_ticks = [[-2, 0, 2], [-2, 0, 2], [-2, 0, 2], [-3, 0, 3], [-3, 0, 3], [-3, 0, 3]]
a_minor = [[-3, -1, 1, 3], [-3, -1, 1, 3], [-3, -1, 1, 3], [-1.5, 1.5], [-1.5, 1.5], [-1.5, 1.5]]
x_ticks = [0.0, 0.2, 0.4, 0.6, 0.8, 1.0]
x_minor = [0.1, 0.3, 0.5, 0.7, 0.9]

# ------------------------------------------------------------------ layout
PAGE_W, PAGE_H = 3156, 1678
OFF = 8                       # default page margin of the html body
W, H = PAGE_W - OFF, PAGE_H - OFF
BLUE = '#0000FF'
FONT = 'Liberation Serif'
COL_X = [(112.0, 1023.0), (1148.5, 2058.5), (2185.0, 3095.6)]
ROW_Y = [[(43.4, 229.0), (229.0, 414.2), (414.2, 599.3)],
         [(902.0, 1088.5), (1088.5, 1273.3), (1273.3, 1458.5)]]
LEFT_LINE = [False, True, True, False, True, True]

pix_list = [pix_a, pix_b, pix_c, pix_d, pix_e, pix_f]
acc_list = [acc_a, acc_b, acc_c, acc_d, acc_e, acc_f]
mseg_list = [m_seg_a, m_seg_b, m_seg_c, None, m_seg_e, m_seg_f]
mspk_list = [m_spk_a, m_spk_b, m_spk_c, None, m_spk_e, m_spk_f]


def px(x):
    return (x - OFF) / W


def py(y):
    return 1 - (y - OFF) / H


def fmt(v):
    return ('%g' % v) if float(v).is_integer() else ('%.1f' % v)


def seg_xy(segs):
    xs, ys = [], []
    for t0, t1, lo, hi in segs:
        xs += [t0, t1, t1, t0, t0, None]
        ys += [lo, lo, hi, hi, lo, None]
    return xs, ys


def spk_xy(spks):
    xs, ys = [], []
    for t, lo, hi in spks:
        xs += [t, t, None]
        ys += [lo, hi, None]
    return xs, ys


fig = go.Figure()
layout = dict(width=W, height=H, margin=dict(l=0, r=0, t=0, b=0, autoexpand=False),
              paper_bgcolor='white', plot_bgcolor='rgba(0,0,0,0)', showlegend=False)
annotations = []
tick_font = dict(family=FONT, size=28, color='black')

k = 0
for p in range(6):
    r, c = divmod(p, 3)
    x0, x1 = COL_X[c]
    specs = [
        (pix_ranges[p], pix_ticks[p], pix_minor[p], 'pixels', 57),
        (m_ranges[p], m_ticks[p], m_minor[p], 'M/mN\u00b7m', 57),
        (a_ranges[p], a_ticks[p], a_minor[p], 'a/g', 46),
    ]
    for s in range(3):
        k += 1
        xname = 'x' if k == 1 else 'x%d' % k
        yname = 'y' if k == 1 else 'y%d' % k
        xkey = 'xaxis' if k == 1 else 'xaxis%d' % k
        ykey = 'yaxis' if k == 1 else 'yaxis%d' % k
        ytop, ybot = ROW_Y[r][s]
        yr, yt, ym, title, tx = specs[s]
        layout[xkey] = dict(domain=[px(x0), px(x1)], anchor=yname, range=[0, 1], automargin=False,
                            showgrid=False, zeroline=False, showline=True, linecolor='black', linewidth=1.5,
                            ticks='inside', ticklen=7, tickwidth=1.3, tickcolor='black',
                            tickmode='array', tickvals=x_ticks, ticktext=['%.1f' % v for v in x_ticks],
                            showticklabels=(s == 2), tickfont=tick_font,
                            minor=dict(tickmode='array', tickvals=x_minor, ticks='inside', ticklen=4,
                                       tickwidth=1.2, tickcolor='black'))
        left_line = LEFT_LINE[p]
        layout[ykey] = dict(domain=[py(ybot), py(ytop)], anchor=xname, range=yr, automargin=False,
                            showgrid=False, zeroline=False, showline=left_line, linecolor='black', linewidth=1.5,
                            ticks='outside' if left_line else 'inside', ticklen=5, tickwidth=1.2, tickcolor='black',
                            tickmode='array', tickvals=yt, ticktext=[fmt(v) for v in yt], tickfont=tick_font,
                            minor=dict(tickmode='array', tickvals=ym, ticks='outside' if left_line else 'inside',
                                       ticklen=4, tickwidth=1.2, tickcolor='black'))
        annotations.append(dict(text=title, x=px(x0 - tx), y=py((ytop + ybot) / 2),
                                xref='paper', yref='paper', textangle=-90, showarrow=False,
                                xanchor='center', yanchor='middle',
                                font=dict(family=FONT, size=29, color='black')))

        if s == 0:
            vals = pix_list[p]
            t = np.linspace(0, 1, len(vals))
            fig.add_trace(go.Scatter(x=t, y=vals, xaxis=xname, yaxis=yname, mode='lines',
                                     line=dict(color=BLUE, width=1.3, dash='8px,14px'), hoverinfo='skip'))
        elif s == 1:
            if mseg_list[p] is None:
                t = np.linspace(0, 1, len(m_d))
                fig.add_trace(go.Scatter(x=t, y=m_d, xaxis=xname, yaxis=yname, mode='lines',
                                         line=dict(color=BLUE, width=1.7), hoverinfo='skip'))
            else:
                sx, sy = seg_xy(mseg_list[p])
                fig.add_trace(go.Scatter(x=sx, y=sy, xaxis=xname, yaxis=yname, mode='lines',
                                         fill='toself', fillcolor=BLUE,
                                         line=dict(color=BLUE, width=1.3), hoverinfo='skip'))
                spx, spy = spk_xy(mspk_list[p])
                fig.add_trace(go.Scatter(x=spx, y=spy, xaxis=xname, yaxis=yname, mode='lines',
                                         line=dict(color=BLUE, width=1.3), hoverinfo='skip'))
        else:
            vals = acc_list[p]
            t = np.linspace(0, 1, len(vals))
            fig.add_trace(go.Scatter(x=t, y=vals, xaxis=xname, yaxis=yname, mode='lines',
                                     line=dict(color=BLUE, width=2.0 if len(vals) < 300 else 1.6),
                                     hoverinfo='skip'))

    xc = (x0 + x1) / 2
    ybottom = ROW_Y[r][2][1]
    annotations.append(dict(text='t/s', x=px(xc), y=py(ybottom + 50), xref='paper', yref='paper',
                            showarrow=False, xanchor='center', yanchor='middle',
                            font=dict(family=FONT, size=28, color='black')))
    annotations.append(dict(text='(<b>%s</b>)' % panel_names[p], x=px(xc - 33),
                            y=py(750 if r == 0 else 1606), xref='paper', yref='paper',
                            showarrow=False, xanchor='center', yanchor='middle',
                            font=dict(family=FONT, size=80, color='black')))

layout['annotations'] = annotations
fig.update_layout(**layout)
fig.write_html('out.html')
